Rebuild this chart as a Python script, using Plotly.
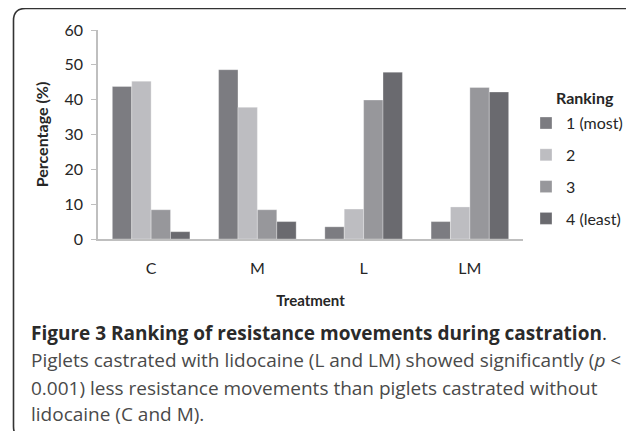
import plotly.graph_objects as go

categories = ["C", "M", "L", "LM"]
series_names = ["1 (most)", "2", "3", "4 (least)"]
rank1 = [43.8, 48.6, 3.5, 5.0]
rank2 = [45.3, 37.8, 8.6, 9.2]
rank3 = [8.4, 8.4, 39.9, 43.5]
rank4 = [2.1, 5.0, 47.9, 42.2]
y_ticks = [0, 10, 20, 30, 40, 50, 60]

colors = ["#7c7c81", "#bdbdc1", "#97979b", "#6a6a6f"]
values = [rank1, rank2, rank3, rank4]

# page has an 8px body margin: lay out in reference pixels, shift by OFF
OFF = 8
W, H = 634 - OFF, 431 - OFF
PL, PR, PT, PB = 98, 523, 30, 238.7   # plot box in reference pixels
L = PL - OFF
T = PT - OFF
R = W - (PR - OFF)
B = H - (PB - OFF)
PW = W - L - R
PH = H - T - B

def px(x):
    return (x - OFF - L) / PW

def py(y):
    return (H - B - (y - OFF)) / PH

CHART_FONT = "Lato, Open Sans, sans-serif"
CAP_FONT = "Open Sans, sans-serif"

fig = go.Figure()
for name, vals, col in zip(series_names, values, colors):
    fig.add_trace(go.Bar(
        x=categories, y=vals, name=name, legendgroup=name,
        marker=dict(color=col, line=dict(color="rgba(255,255,255,0.6)", width=0.5)),
    ))

# border with rounded corners (reference pixel coords)
x0, y0, x1, y1, r = 13.5, 8.5, 642, 438, 12
path = (f"M {px(x0)},{py(y0 + r)} Q {px(x0)},{py(y0)} {px(x0 + r)},{py(y0)} "
        f"L {px(x1 - r)},{py(y0)} Q {px(x1)},{py(y0)} {px(x1)},{py(y0 + r)} "
        f"L {px(x1)},{py(y1 - r)} Q {px(x1)},{py(y1)} {px(x1 - r)},{py(y1)} "
        f"L {px(x0 + r)},{py(y1)} Q {px(x0)},{py(y1)} {px(x0)},{py(y1 - r)} Z")

cap_kw = dict(xref="paper", yref="paper", xanchor="left", yanchor="middle", showarrow=False)
CAP_X = 29
annotations = [
    dict(text="<b>Ranking</b>", x=px(554), y=py(97),
         font=dict(family=CHART_FONT, size=16, color="#262626"), **cap_kw),
    dict(text="<b>Figure 3 Ranking of resistance movements during castration</b>.",
         x=px(CAP_X), y=py(333),
         font=dict(family=CAP_FONT, size=19, color="#2a2a2a"), **cap_kw),
    dict(text="Piglets castrated with lidocaine (L and LM) showed significantly (<i>p</i> <",
         x=px(CAP_X), y=py(360),
         font=dict(family=CAP_FONT, size=19, color="#4a4a4a"), **cap_kw),
    dict(text="0.001) less resistance movements than piglets castrated without",
         x=px(CAP_X), y=py(387),
         font=dict(family=CAP_FONT, size=19, color="#4a4a4a"), **cap_kw),
    dict(text="lidocaine (C and M).",
         x=px(CAP_X), y=py(413),
         font=dict(family=CAP_FONT, size=19, color="#4a4a4a"), **cap_kw),
]

fig.update_layout(
    width=W, height=H,
    margin=dict(l=L, r=R, t=T, b=B, autoexpand=False),
    paper_bgcolor="white", plot_bgcolor="white",
    barmode="group", bargap=0.27, bargroupgap=0,
    font=dict(family=CHART_FONT, size=16, color="#262626"),
    showlegend=True,
    legend=dict(x=px(526), y=py(106), xanchor="left", yanchor="top",
                tracegroupgap=8, traceorder="grouped",
                font=dict(family=CHART_FONT, size=16, color="#262626"),
                bgcolor="rgba(0,0,0,0)"),
    shapes=[dict(type="path", path=path, xref="paper", yref="paper",
                 line=dict(color="#333333", width=1.6), layer="above")],
    annotations=annotations,
    xaxis=dict(
        showline=True, linecolor="#bfbfbf", linewidth=1.5, ticks="",
        showgrid=False, ticklabelstandoff=14,
        tickfont=dict(size=16, color="#262626"),
        title=dict(text="<b>Treatment</b>", standoff=20,
                   font=dict(size=15, color="#262626")),
    ),
    yaxis=dict(
        range=[0, 60], tickvals=y_ticks, showline=True, linecolor="#bfbfbf",
        linewidth=1.5, ticks="outside", ticklen=5, tickcolor="#bfbfbf",
        showgrid=False, zeroline=False, ticklabelstandoff=5,
        tickfont=dict(size=16, color="#262626"),
        title=dict(text="<b>Percentage (%)</b>", standoff=12,
                   font=dict(size=16, color="#262626")),
    ),
)

fig.write_html("out.html")
